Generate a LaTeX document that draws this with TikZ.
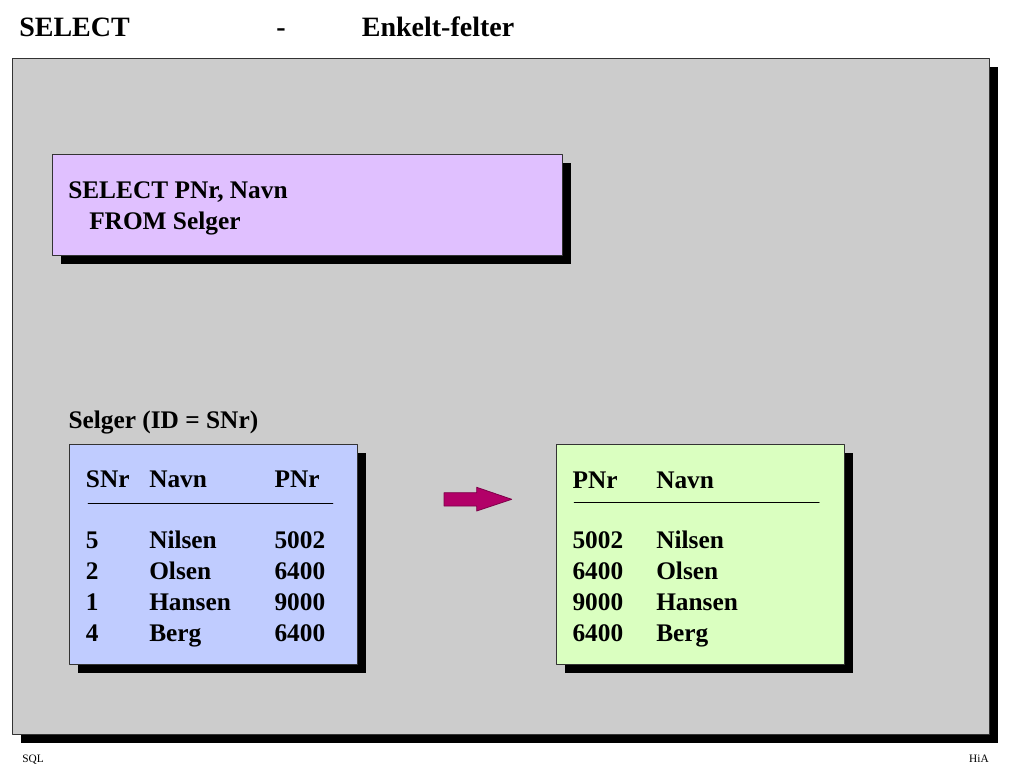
\documentclass[tikz,border=0pt]{standalone}
\usepackage{fontspec}
\setmainfont{Liberation Serif}
\definecolor{panelgray}{RGB}{204,204,204}
\definecolor{querylilac}{RGB}{224,192,255}
\definecolor{tableblue}{RGB}{192,204,255}
\definecolor{resultgreen}{RGB}{218,255,192}
\definecolor{arrowred}{RGB}{178,0,104}
\tikzset{
	txt/.style={inner sep=0pt,anchor=base west},
	big/.style={font=\bfseries\fontsize{19}{23}\selectfont},
	small/.style={font=\fontsize{8.5}{10}\selectfont},
}
\begin{document}
\begin{tikzpicture}[x=0.75pt,y=-0.75pt,line join=round,line cap=round,big]
	\def\sh{9} % skygge
	\def\dy{30.8} % linjeavstand
	\useasboundingbox[fill=white] (0,0) rectangle (1024,768);
	% bokser med skygge
	\foreach \xa/\ya/\xb/\yb/\farge in {12/58/989/734/panelgray,52/154/562/255/querylilac,69/444/357/664/tableblue,556/444/844/664/resultgreen}{
		\fill (\xa+\sh,\ya+\sh) rectangle (\xb+\sh,\yb+\sh);
		\filldraw[fill=\farge,draw=black!80,line width=0.75pt] (\xa,\ya) rectangle (\xb,\yb);
	}
	% tittel
	\node[txt,font=\bfseries\fontsize{21}{25}\selectfont] (ttlsel) at (19,36.7) {SELECT};
	\node[txt,font=\bfseries\fontsize{21}{25}\selectfont] (ttldash) at (276,36.7) {-};
	\node[txt,font=\bfseries\fontsize{21}{25}\selectfont] (ttlfelt) at (361.6,36.7) {Enkelt-felter};
	% sporring
	\node[txt] (qsel) at (68,198.3) {SELECT PNr, Navn};
	\node[txt] (qfrom) at (89,229.3) {FROM Selger};
	% tabell Selger
	\node[txt] (sellbl) at (68.3,428.3) {Selger (ID = SNr)};
	\node[txt] (hsnr) at (85.7,487.5) {SNr};
	\node[txt] (hnavn) at (149,487.5) {Navn};
	\node[txt] (hpnr) at (274.3,487.5) {PNr};
	\draw[line width=0.9pt] (88.3,503.3)--(332.7,503.3);
	% resultat
	\node[txt] (rpnr) at (572.3,488) {PNr};
	\node[txt] (rnavn) at (656,488) {Navn};
	\draw[line width=0.9pt] (574.3,502.7)--(819,502.7);
	\foreach \i/\snr/\navn/\pnr in {0/5/Nilsen/5002,1/2/Olsen/6400,2/1/Hansen/9000,3/4/Berg/6400}{
		\node[txt] (snr\i) at (85.7,548.7+\dy*\i) {\snr};
		\node[txt] (navn\i) at (149,548.7+\dy*\i) {\navn};
		\node[txt] (pnr\i) at (274.3,548.7+\dy*\i) {\pnr};
		\node[txt] (rp\i) at (572.3,548.7+\dy*\i) {\pnr};
		\node[txt] (rn\i) at (656,548.7+\dy*\i) {\navn};
	}
	% pil
	\filldraw[fill=arrowred,draw=arrowred!70!black,line width=0.6pt] (444,492.7)--(476.7,492.7)--(476.7,487.3)--(511.7,499.3)--(476.7,511)--(476.7,506)--(444,506)--cycle;
	% bunntekst
	\node[txt,small] (fsql) at (22,762.3) {SQL};
	\node[inner sep=0pt,anchor=base east,small] (fhia) at (989,762.3) {HiA};
\end{tikzpicture}
\end{document}
